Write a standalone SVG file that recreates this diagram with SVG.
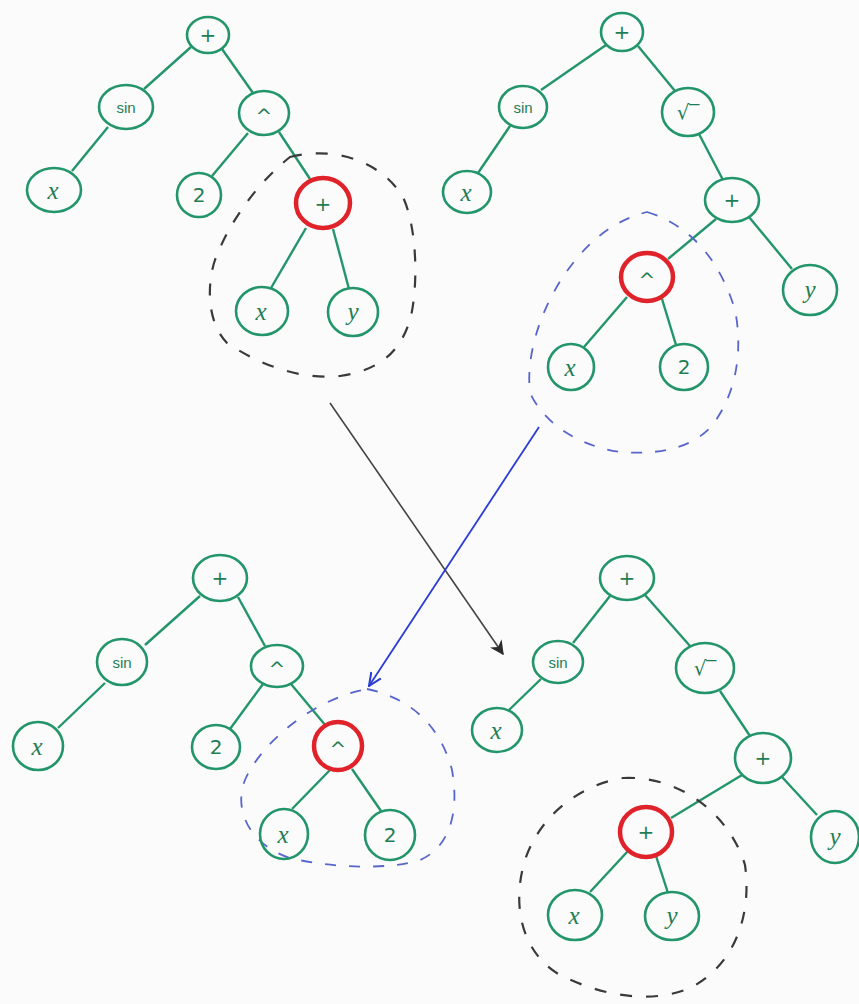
<svg xmlns="http://www.w3.org/2000/svg" width="859" height="1004" viewBox="0 0 859 1004">
<defs>
<style>
.n{fill:none;stroke:#23956a;stroke-width:2.6}
.r{fill:none;stroke:#e0232b;stroke-width:4.5}
.t{font-family:"DejaVu Sans","Liberation Sans",sans-serif;font-size:20px;fill:#1f7d55;text-anchor:middle;dominant-baseline:central}
.ts{font-family:"Liberation Sans",sans-serif;font-size:15px;fill:#1f7d55;text-anchor:middle;dominant-baseline:central}
.tx{font-family:"Liberation Serif",serif;font-style:italic;font-size:25px;fill:#1f7d55;text-anchor:middle;dominant-baseline:central}
.e{stroke:#23956a;stroke-width:2.4;fill:none}
.dk{fill:none;stroke:#3a3a3a;stroke-width:2.2;stroke-dasharray:12 14}
.db{fill:none;stroke:#5865cc;stroke-width:1.8;stroke-dasharray:11 13}
</style>
<marker id="ah" viewBox="0 0 10 10" refX="9" refY="5" markerWidth="9" markerHeight="9" orient="auto"><path d="M0,0 L10,5 L0,10 L3,5 z" fill="#2b2b2b"/></marker>
<marker id="bh" viewBox="0 0 10 10" refX="9" refY="5" markerWidth="8" markerHeight="8" orient="auto"><path d="M0,1 L9,5 L0,9" fill="none" stroke="#2a3bd6" stroke-width="1.4"/></marker>
</defs>
<rect width="859" height="1004" fill="#fbfbfb"/>

<g id="connectors">
<line class="e" x1="191" y1="47" x2="144" y2="89"/>
<line class="e" x1="222" y1="49" x2="253" y2="93"/>
<line class="e" x1="108" y1="127" x2="72" y2="171"/>
<line class="e" x1="248" y1="133" x2="212" y2="176"/>
<line class="e" x1="279" y1="132" x2="310" y2="179"/>
<line class="e" x1="306" y1="228" x2="271" y2="288"/>
<line class="e" x1="333" y1="229" x2="349" y2="289"/>
<line class="e" x1="606" y1="45" x2="541" y2="90"/>
<line class="e" x1="638" y1="46" x2="675" y2="91"/>
<line class="e" x1="510" y1="126" x2="478" y2="173"/>
<line class="e" x1="699" y1="134" x2="723" y2="180"/>
<line class="e" x1="716" y1="219" x2="668" y2="259"/>
<line class="e" x1="749" y1="217" x2="792" y2="269"/>
<line class="e" x1="627" y1="297" x2="584" y2="347"/>
<line class="e" x1="662" y1="299" x2="676" y2="345"/>
<line class="e" x1="200" y1="596" x2="145" y2="645"/>
<line class="e" x1="238" y1="597" x2="265" y2="646"/>
<line class="e" x1="105" y1="683" x2="58" y2="728"/>
<line class="e" x1="263" y1="684" x2="230" y2="729"/>
<line class="e" x1="291" y1="684" x2="326" y2="726"/>
<line class="e" x1="330" y1="770" x2="292" y2="809"/>
<line class="e" x1="352" y1="769" x2="381" y2="811"/>
<line class="e" x1="610" y1="596" x2="573" y2="643"/>
<line class="e" x1="645" y1="595" x2="690" y2="646"/>
<line class="e" x1="541" y1="679" x2="509" y2="710"/>
<line class="e" x1="720" y1="691" x2="750" y2="736"/>
<line class="e" x1="742" y1="775" x2="671" y2="818"/>
<line class="e" x1="782" y1="777" x2="817" y2="815"/>
<line class="e" x1="628" y1="851" x2="590" y2="892"/>
<line class="e" x1="656" y1="856" x2="668" y2="893"/>
<line x1="330" y1="403" x2="503" y2="654" stroke="#444" stroke-width="1.6" marker-end="url(#ah)"/>
<line x1="539" y1="427" x2="369" y2="686" stroke="#2a3bd6" stroke-width="1.8" marker-end="url(#bh)"/>
</g>

<g id="subtree-outlines">
<path class="dk" d="M290,157 C333,146 380,160 403,197 C418,230 418,290 410,320 C400,352 380,370 340,376 C300,380 260,365 227,343 C205,320 208,280 215,260 C228,225 255,185 290,157 Z"/>
<path class="db" d="M647,212 C690,225 720,260 735,310 C743,350 737,395 710,428 C690,448 660,455 620,452 C580,446 545,425 530,393 C525,350 545,300 570,267 C590,240 615,220 647,212 Z"/>
<path class="db" d="M367,689 C410,698 440,725 452,770 C460,815 448,848 420,860 C390,870 330,868 290,858 C250,845 233,810 245,780 C260,745 310,700 367,689 Z"/>
<path class="dk" d="M623,778 C680,775 730,815 745,865 C752,915 735,965 690,988 C650,1005 600,995 560,975 C525,955 510,910 525,860 C540,815 580,785 623,778 Z"/>
</g>

<g id="tl-plus"><ellipse class="n" cx="208" cy="35" rx="21" ry="18"/><text class="t" x="208" y="35">+</text></g>
<g id="tl-sin"><ellipse class="n" cx="126" cy="107" rx="27" ry="22"/><text class="ts" x="126" y="107">sin</text></g>
<g id="tl-pow"><ellipse class="n" cx="264" cy="113" rx="25" ry="22"/><text class="t" x="264" y="116">^</text></g>
<g id="tl-x1"><ellipse class="n" cx="54" cy="190" rx="27" ry="22"/><text class="tx" x="53" y="190">x</text></g>
<g id="tl-2"><ellipse class="n" cx="199" cy="195" rx="22" ry="22"/><text class="t" x="199" y="195">2</text></g>
<g id="tl-plus2"><ellipse class="r" cx="323" cy="203" rx="27" ry="25"/><text class="t" x="323" y="204">+</text></g>
<g id="tl-x2"><ellipse class="n" cx="262" cy="311" rx="26" ry="24"/><text class="tx" x="261" y="311">x</text></g>
<g id="tl-y"><ellipse class="n" cx="353" cy="312" rx="25" ry="24"/><text class="tx" x="353" y="311">y</text></g>

<g id="tr-plus"><ellipse class="n" cx="622" cy="32" rx="21" ry="19"/><text class="t" x="622" y="32">+</text></g>
<g id="tr-sin"><ellipse class="n" cx="523" cy="107" rx="24" ry="21"/><text class="ts" x="523" y="107">sin</text></g>
<g id="tr-sqrt"><ellipse class="n" cx="688" cy="112" rx="26" ry="24"/><text class="t" x="688" y="112">√‾</text></g>
<g id="tr-x1"><ellipse class="n" cx="467" cy="192" rx="24" ry="21"/><text class="tx" x="466" y="192">x</text></g>
<g id="tr-plus2"><ellipse class="n" cx="732" cy="200" rx="27" ry="22"/><text class="t" x="732" y="200">+</text></g>
<g id="tr-pow"><ellipse class="r" cx="647" cy="277" rx="26" ry="24"/><text class="t" x="647" y="280">^</text></g>
<g id="tr-y"><ellipse class="n" cx="810" cy="290" rx="27" ry="25"/><text class="tx" x="810" y="289">y</text></g>
<g id="tr-x2"><ellipse class="n" cx="571" cy="367" rx="23" ry="23"/><text class="tx" x="570" y="367">x</text></g>
<g id="tr-2"><ellipse class="n" cx="684" cy="367" rx="24" ry="23"/><text class="t" x="684" y="367">2</text></g>

<g id="bl-plus"><ellipse class="n" cx="220" cy="578" rx="27" ry="23"/><text class="t" x="220" y="578">+</text></g>
<g id="bl-sin"><ellipse class="n" cx="122" cy="662" rx="25" ry="23"/><text class="ts" x="122" y="662">sin</text></g>
<g id="bl-pow"><ellipse class="n" cx="277" cy="666" rx="26" ry="21"/><text class="t" x="277" y="669">^</text></g>
<g id="bl-x1"><ellipse class="n" cx="38" cy="746" rx="25" ry="24"/><text class="tx" x="37" y="746">x</text></g>
<g id="bl-2"><ellipse class="n" cx="216" cy="747" rx="24" ry="22"/><text class="t" x="216" y="747">2</text></g>
<g id="bl-pow2"><ellipse class="r" cx="338" cy="746" rx="24" ry="24"/><text class="t" x="338" y="749">^</text></g>
<g id="bl-x2"><ellipse class="n" cx="284" cy="834" rx="24" ry="25"/><text class="tx" x="283" y="834">x</text></g>
<g id="bl-2b"><ellipse class="n" cx="390" cy="835" rx="25" ry="25"/><text class="t" x="390" y="835">2</text></g>

<g id="br-plus"><ellipse class="n" cx="627" cy="578" rx="27" ry="22"/><text class="t" x="627" y="578">+</text></g>
<g id="br-sin"><ellipse class="n" cx="558" cy="662" rx="25" ry="21"/><text class="ts" x="558" y="662">sin</text></g>
<g id="br-sqrt"><ellipse class="n" cx="705" cy="668" rx="29" ry="25"/><text class="t" x="705" y="668">√‾</text></g>
<g id="br-x1"><ellipse class="n" cx="497" cy="730" rx="25" ry="22"/><text class="tx" x="496" y="730">x</text></g>
<g id="br-plus2"><ellipse class="n" cx="763" cy="758" rx="28" ry="25"/><text class="t" x="763" y="758">+</text></g>
<g id="br-plus3"><ellipse class="r" cx="646" cy="832" rx="26" ry="25"/><text class="t" x="646" y="832">+</text></g>
<g id="br-y1"><ellipse class="n" cx="835" cy="837" rx="24" ry="26"/><text class="tx" x="835" y="836">y</text></g>
<g id="br-x2"><ellipse class="n" cx="575" cy="915" rx="27" ry="25"/><text class="tx" x="574" y="915">x</text></g>
<g id="br-y2"><ellipse class="n" cx="672" cy="916" rx="27" ry="24"/><text class="tx" x="672" y="915">y</text></g>
</svg>
